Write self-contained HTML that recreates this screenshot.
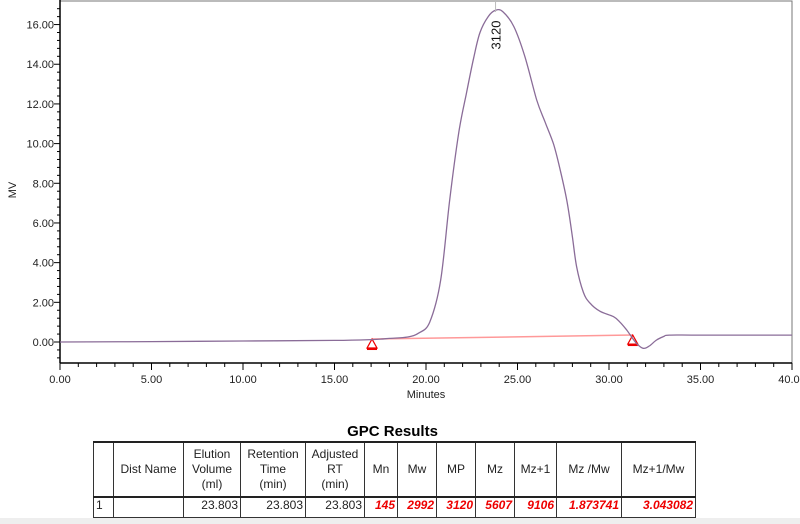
<!DOCTYPE html>
<html><head><meta charset="utf-8"><style>
body{margin:0;width:800px;height:524px;background:#fff;overflow:hidden;font-family:"Liberation Sans",sans-serif;position:relative}
svg{position:absolute;left:0;top:0}
table{position:absolute;left:93px;top:441px;border-collapse:collapse;font-size:12px;color:#222;table-layout:fixed;width:602px}
td{border:1px solid #333;text-align:center;padding:0 2px;line-height:15px;overflow:hidden;white-space:normal}
tr.h td{height:53px;border-top:2px solid #222;border-bottom:2px solid #222}
tr.d td{height:19px;vertical-align:top;text-align:right}
td.r{color:#e00;font-weight:bold;font-style:italic}
#title{position:absolute;left:0;width:785px;text-align:center;top:423px;font-weight:bold;font-size:15px}
#grey{position:absolute;left:0;top:518px;width:800px;height:6px;background:#eee}
</style></head><body>
<svg id="chart" width="800" height="420"></svg>
<div id="title">GPC Results</div>
<table>
<colgroup><col style="width:20px"><col style="width:70px"><col style="width:57px"><col style="width:65px"><col style="width:59px"><col style="width:33px"><col style="width:39px"><col style="width:39px"><col style="width:39px"><col style="width:42px"><col style="width:65px"><col style="width:74px"></colgroup>
<tr class="h"><td></td><td>Dist Name</td><td>Elution Volume (ml)</td><td>Retention<br>Time<br>(min)</td><td>Adjusted RT<br>(min)</td><td>Mn</td><td>Mw</td><td>MP</td><td>Mz</td><td>Mz+1</td><td>Mz /Mw</td><td>Mz+1/Mw</td></tr>
<tr class="d"><td style="text-align:left">1</td><td></td><td>23.803</td><td>23.803</td><td>23.803</td><td class="r">145</td><td class="r">2992</td><td class="r">3120</td><td class="r">5607</td><td class="r">9106</td><td class="r">1.873741</td><td class="r">3.043082</td></tr>
</table>
<div id="grey"></div>
<script>
const times=[0,5,10,15,17,18,19,19.6,20.2,20.8,21.3,21.8,22.2,22.6,22.95,23.4,23.8,24.2,24.8,25.4,26.05,26.5,26.96,27.3,27.69,28.0,28.23,28.6,28.96,29.5,30.24,30.6,30.97,31.2,31.5,31.87,32.2,32.6,33.0,33.3,35,40];
const mv=[0,0.02,0.05,0.08,0.12,0.18,0.25,0.45,1.0,3.1,7.2,10.6,12.5,14.3,15.6,16.4,16.72,16.65,15.9,14.4,12.2,11.1,10.0,8.8,7.16,5.3,3.8,2.5,1.96,1.55,1.28,1.0,0.6,0.3,-0.07,-0.32,-0.2,0.1,0.28,0.35,0.35,0.35];
const baseT=[17.05,31.3];
const baseV=[0.15,0.35];
const xTicks=[0,5,10,15,20,25,30,35,40];
const yTicks=[0,2,4,6,8,10,12,14,16];
const peakLabel="3120", peakT=23.8;
const X=t=>60+t*18.3, Y=v=>342-v*19.84;
const s=document.getElementById('chart'),NS='http://www.w3.org/2000/svg';
function mk(tag,a,p){const e=document.createElementNS(NS,tag);for(const k in a)e.setAttribute(k,a[k]);(p||s).appendChild(e);return e;}
let e=mk('rect',{x:X(0),y:1,width:X(40)-X(0),height:362,fill:'none',stroke:'#777','stroke-width':1});

e=mk('line',{x1:X(0),y1:0,x2:X(0),y2:363,stroke:'#000','stroke-width':1.5});

e=mk('line',{x1:X(0),y1:363,x2:X(40),y2:363,stroke:'#000','stroke-width':1.5});

for(let t=0;t<=40;t++){mk('line',{x1:X(t),y1:363,x2:X(t),y2:t%5?367:370,stroke:'#000'});}
xTicks.forEach(t=>{e=mk('text',{x:X(t),y:383,'text-anchor':'middle','font-size':11,fill:'#222'});e.textContent=t.toFixed(2);
});
for(let v=-0.8;v<=16.9;v+=0.4){const maj=Math.abs(v/2-Math.round(v/2))<0.01;mk('line',{x1:X(0),y1:Y(v),x2:X(0)-(maj?6:3),y2:Y(v),stroke:'#000'});}
yTicks.forEach(v=>{e=mk('text',{x:X(0)-6,y:Y(v)+4,'text-anchor':'end','font-size':11,fill:'#222'});e.textContent=v.toFixed(2);
});
e=mk('text',{x:16,y:190,'font-size':11,fill:'#222','text-anchor':'middle',transform:'rotate(-90 16 190)'});e.textContent='MV';

e=mk('text',{x:X(20),y:398,'font-size':11,fill:'#222','text-anchor':'middle'});e.textContent='Minutes';

e=mk('line',{x1:X(baseT[0]),y1:Y(baseV[0]),x2:X(baseT[1]),y2:Y(baseV[1]),stroke:'#f99','stroke-width':1.5});

baseT.forEach((t,i)=>{const x=X(t),y=Y(baseV[i]);
e=mk('path',{d:`M${x} ${y} L${x-5} ${y+9} L${x+5} ${y+9} Z`,fill:'none',stroke:'#e00','stroke-width':1.2});

mk('line',{x1:x-5,y1:y+10,x2:x+5,y2:y+10,stroke:'#e00','stroke-width':2});});
const P=times.map((t,i)=>[X(t),Y(mv[i])]);
let d='M'+P[0][0]+' '+P[0][1];
for(let i=0;i<P.length-1;i++){const p0=P[Math.max(0,i-1)],p1=P[i],p2=P[i+1],p3=P[Math.min(P.length-1,i+2)];
d+=` C${(p1[0]+(p2[0]-p0[0])/6).toFixed(1)} ${(p1[1]+(p2[1]-p0[1])/6).toFixed(1)} ${(p2[0]-(p3[0]-p1[0])/6).toFixed(1)} ${(p2[1]-(p3[1]-p1[1])/6).toFixed(1)} ${p2[0].toFixed(1)} ${p2[1].toFixed(1)}`;}
e=mk('path',{d:d,fill:'none',stroke:'#8a6c98','stroke-width':1.3,'stroke-linejoin':'round'});

const px=X(peakT);mk('line',{x1:px,y1:2,x2:px,y2:12,stroke:'#bbb'});
e=mk('text',{x:px+5,y:35,'font-size':13,fill:'#111','text-anchor':'middle',transform:`rotate(-90 ${px+5} 35)`});e.textContent=peakLabel;

</script>
</body></html>
